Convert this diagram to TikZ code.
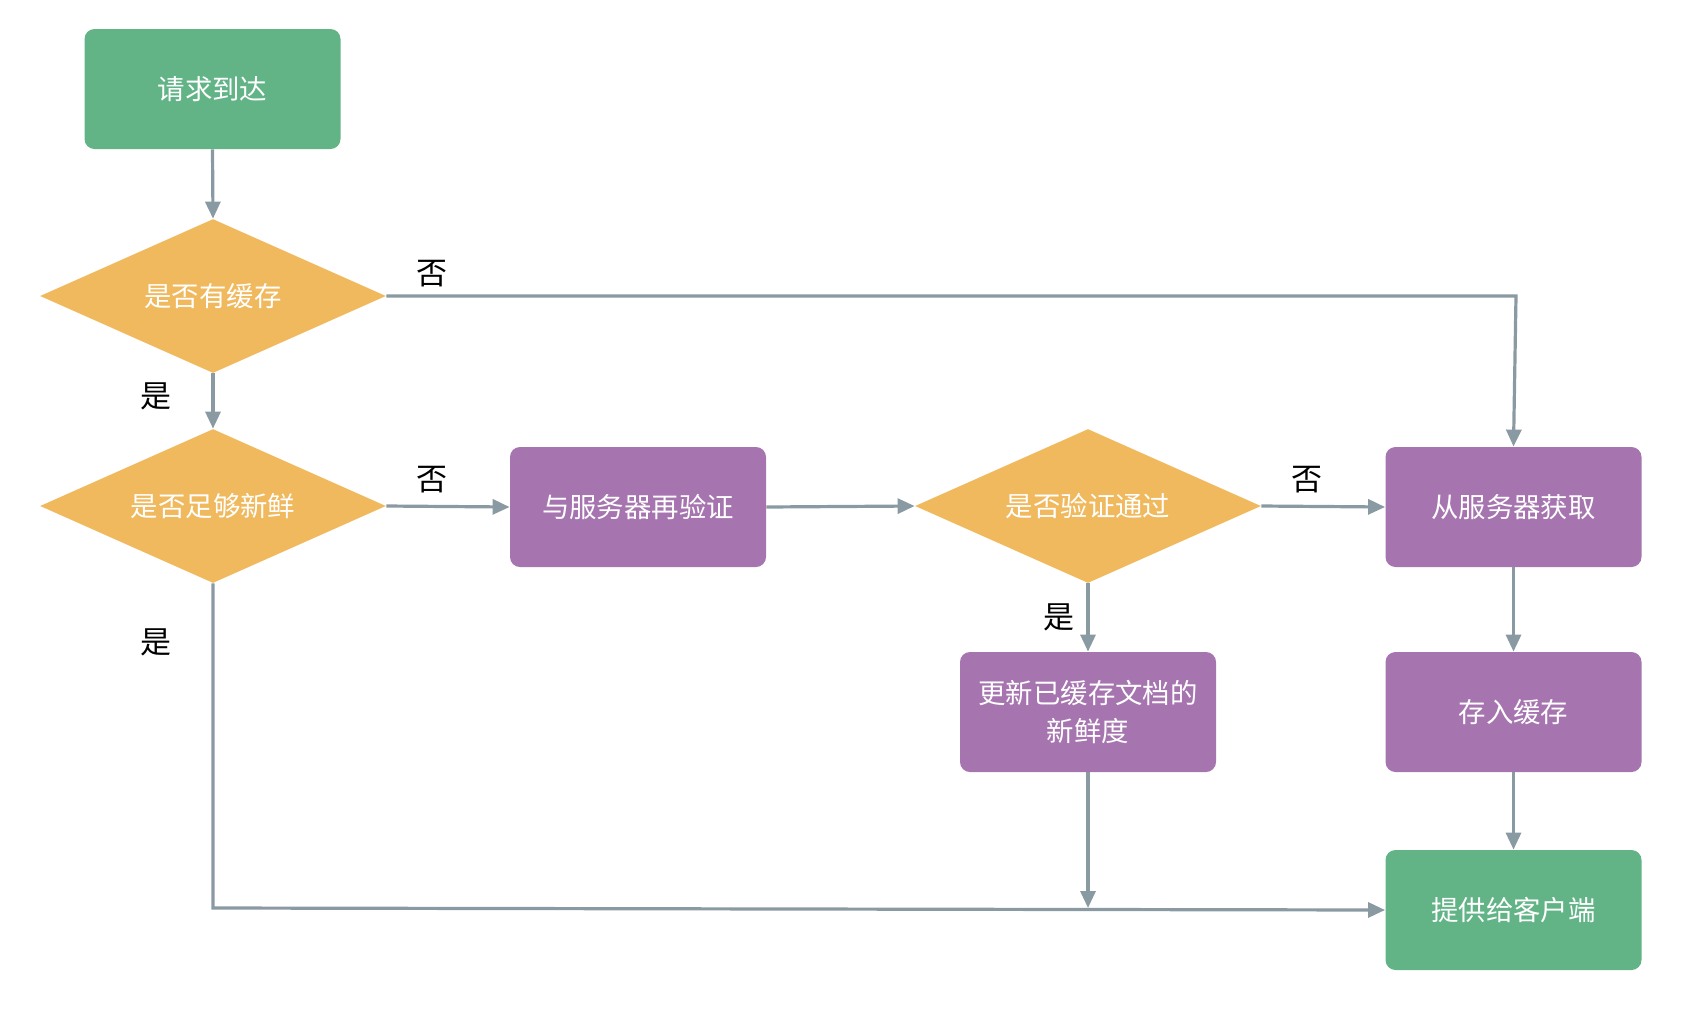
\documentclass[tikz,border=0pt]{standalone}
\usepackage{fontspec}
\newfontfamily\cjk{Noto Sans CJK SC}
\usetikzlibrary{shapes.geometric,arrows.meta}
\definecolor{cgreen}{HTML}{62B487}
\definecolor{corange}{HTML}{F0B95E}
\definecolor{cpurple}{HTML}{A675B0}
\definecolor{cline}{HTML}{8A9AA3}
\newcommand{\zw}[1]{\makebox[0pt]{#1}}
\begin{document}
\begin{tikzpicture}[x=0.5pt,y=-0.5pt,
  box/.style={rectangle, rounded corners=5pt, minimum width=128pt, minimum height=60pt, inner sep=0pt, text=white, align=center, font=\cjk\fontsize{13.7}{19}\selectfont},
  gbox/.style={box, fill=cgreen},
  pbox/.style={box, fill=cpurple},
  dec/.style={diamond, fill=corange, minimum width=173pt, minimum height=77pt, inner sep=0pt, text=white, font=\cjk\fontsize{13.7}{16}\selectfont},
  lbl/.style={font=\cjk\fontsize{15.5}{17}\selectfont, text=black},
  conn/.style={draw=cline, line width=1.6pt, -{Triangle[length=8.5pt,width=7.5pt]}},
  plain/.style={draw=cline, line width=1.6pt}]
\path[use as bounding box] (0,0) rectangle (1692,1008);
\node[gbox] (start) at (212.5,89) {请求到达};
\node[dec] (d1) at (213,296) {\zw{是否有缓存}};
\node[dec] (d2) at (213,506) {\zw{是否足够新鲜}};
\node[pbox] (reval) at (638,507) {与服务器再验证};
\node[dec] (d3) at (1088,506) {\zw{是否验证通过}};
\node[pbox] (fetch) at (1513.5,507) {从服务器获取};
\node[pbox] (upd) at (1088,712) {更新已缓存文档的\\新鲜度};
\node[pbox] (store) at (1513.5,712) {存入缓存};
\node[gbox] (serve) at (1513.5,910) {提供给客户端};
\coordinate (c1) at (1516,296);
\coordinate (c2) at (213,908);
\coordinate (c3) at (1088,908);

\draw[conn] (start.south) -- (d1.north);
\draw[conn] (d1.east) -- (c1) -- (fetch.north);
\draw[conn] (d1.south) -- (d2.north);
\draw[conn] (d2.east) -- (reval.west);
\draw[conn] (reval.east) -- (d3.west);
\draw[conn] (d3.east) -- (fetch.west);
\draw[conn] (d3.south) -- (upd.north);
\draw[conn] (d2.south) -- (c2) -- (serve.west);
\draw[conn] (upd.south) -- (c3);
\draw[conn] (fetch.south) -- (store.north);
\draw[conn] (store.south) -- (serve.north);

\node[lbl] (l1) at (432,274) {否};
\node[lbl] (l2) at (156,396) {是};
\node[lbl] (l3) at (432,480) {否};
\node[lbl] (l4) at (156,642) {是};
\node[lbl] (l5) at (1307,480) {否};
\node[lbl] (l6) at (1059,617) {是};
\end{tikzpicture}
\end{document}
